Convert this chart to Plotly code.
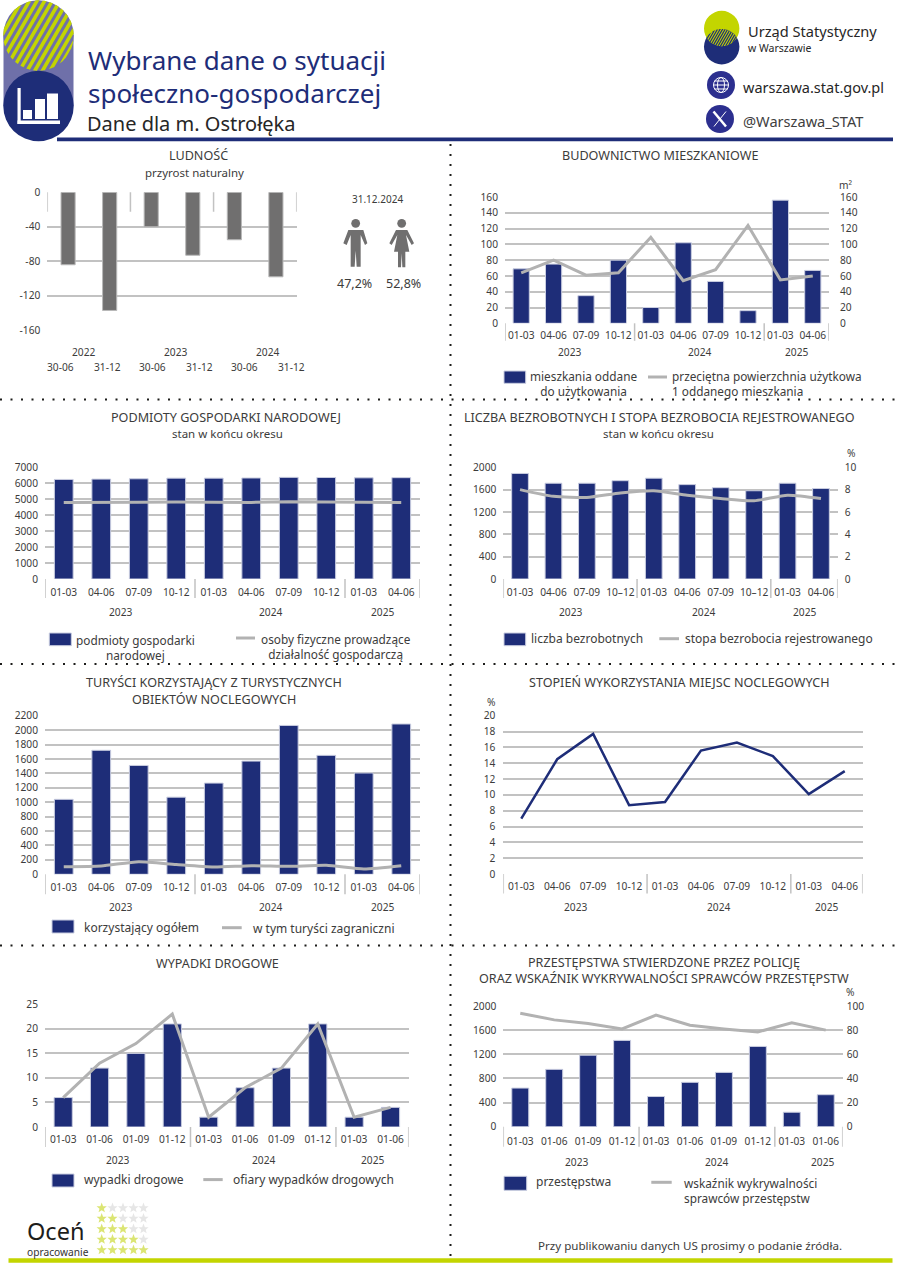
import math
import plotly.graph_objects as go

W, H = 900, 1273
FONT = "Noto Sans"
NAVY = "#1e2d78"
LIME = "#c3d500"
GRID = "#c2c2c2"
LINEC = "#b2b2b2"
TXT = "#3c3c3b"
BARGREY = "#706f6f"
TICK = 10.2

# ---------- data ----------
pop_labels_top = ["2022", "2023", "2024"]
pop_labels_dates = ["30-06", "31-12", "30-06", "31-12", "30-06", "31-12"]
pop_growth = [-84, -137, -40, -73, -55, -98]
pop_ticks = [0, -40, -80, -120, -160]
sex_date = "31.12.2024"
sex_male = "47,2%"
sex_female = "52,8%"

quarters = ["01-03", "04-06", "07-09", "10-12", "01-03", "04-06", "07-09", "10-12", "01-03", "04-06"]
quarters_dash = ["01-03", "04-06", "07-09", "10–12", "01-03", "04-06", "07-09", "10–12", "01-03", "04-06"]
cumul = ["01-03", "01-06", "01-09", "01-12", "01-03", "01-06", "01-09", "01-12", "01-03", "01-06"]
years = ["2023", "2024", "2025"]
year_sizes = [4, 4, 2]

dwellings = [69, 75, 35, 80, 20, 102, 53, 16, 156, 67]
dwelling_area = [64, 80, 61, 64, 109, 54, 68, 124, 55, 60]
entities = [6240, 6260, 6280, 6320, 6320, 6330, 6370, 6360, 6340, 6350]
self_employed = [4800, 4790, 4810, 4830, 4800, 4800, 4840, 4830, 4790, 4800]
unemployed = [1890, 1715, 1715, 1760, 1805, 1690, 1635, 1580, 1715, 1620]
unemp_rate = [8.0, 7.4, 7.3, 7.7, 7.9, 7.5, 7.2, 7.0, 7.5, 7.2]
tourists = [1040, 1720, 1510, 1070, 1265, 1570, 2065, 1650, 1405, 2085]
tourists_foreign = [105, 115, 175, 135, 100, 120, 110, 125, 75, 120]
occupancy = [7.0, 14.5, 17.7, 8.7, 9.1, 15.6, 16.6, 14.9, 10.1, 13.0]
accidents = [6, 12, 15, 21, 2, 8, 12, 21, 2, 4]
victims = [6, 13, 17, 23, 2, 8, 12, 21, 2, 4]
crimes = [640, 950, 1185, 1430, 500, 735, 900, 1330, 240, 530]
detection = [94, 88.5, 85.5, 81, 92.5, 84, 81, 78.5, 86, 80]

# ---------- helpers ----------
def X(px):
    return px / W

def Y(py):
    return 1 - py / H

shapes, annotations, layout_axes = [], [], {}
traces = []

def text(x, y, s, size=12, color=TXT, anchor="center", family=FONT):
    annotations.append(dict(x=X(x), y=Y(y), xref="paper", yref="paper", text=s, showarrow=False,
                            xanchor=anchor, yanchor="middle", align=anchor if anchor != "center" else "center",
                            borderpad=0, borderwidth=0,
                            font=dict(size=size, color=color, family=family)))

def rect(x0, y0, x1, y1, fill, line=None, lw=0):
    shapes.append(dict(type="rect", xref="paper", yref="paper", x0=X(x0), x1=X(x1), y0=Y(y0), y1=Y(y1),
                       fillcolor=fill, line=dict(color=line or fill, width=lw)))

def hline(x0, y0, x1, y1, color, width, dash=None):
    shapes.append(dict(type="line", xref="paper", yref="paper", x0=X(x0), x1=X(x1), y0=Y(y0), y1=Y(y1),
                       line=dict(color=color, width=width, dash=dash or "solid")))

def circle(cx, cy, r, fill, line=None, lw=0):
    shapes.append(dict(type="circle", xref="paper", yref="paper", x0=X(cx - r), x1=X(cx + r),
                       y0=Y(cy + r), y1=Y(cy - r), fillcolor=fill, line=dict(color=line or fill, width=lw)))

def poly(points, fill):
    d = "M" + " L".join(f"{X(a):.5f},{Y(b):.5f}" for a, b in points) + " Z"
    shapes.append(dict(type="path", xref="paper", yref="paper", path=d, fillcolor=fill,
                       line=dict(color=fill, width=0)))

def stripes(circles, period, width, angle, color):
    """Diagonal stripes clipped to the intersection of the circles."""
    ca, sa = math.cos(angle), math.sin(angle)
    mx = sum(c[0] for c in circles) / len(circles)
    my = sum(c[1] for c in circles) / len(circles)
    rot = [((c[0] - mx) * ca + (c[1] - my) * sa, -(c[0] - mx) * sa + (c[1] - my) * ca, c[2]) for c in circles]
    v0 = -60.0
    while v0 < 60:
        n = 7
        lows, highs = [], []
        for k in range(n):
            v = v0 + width * k / (n - 1)
            lo, hi = -1e9, 1e9
            ok = True
            for cu, cv, r in rot:
                q = r * r - (v - cv) ** 2
                if q <= 0:
                    ok = False
                    break
                s = math.sqrt(q)
                lo, hi = max(lo, cu - s), min(hi, cu + s)
            if ok and hi > lo:
                lows.append((lo, v))
                highs.append((hi, v))
        if len(lows) >= 2:
            pts = lows + highs[::-1]
            poly([(mx + u * ca - v * sa, my + u * sa + v * ca) for u, v in pts], color)
        v0 += period

def chart(i, box, ymax, dtick, labels, bars=None, line=None, y2=None, bar_color=NAVY, smooth=False,
          line_color=LINEC, line_w=3, sx=7, sy=7, sy2=None, ticks=None):
    l, r, top, bot = box
    xa, ya = f"x{i}", f"y{i}"
    n = len(labels)
    xs = list(range(n))
    tickvals = ticks if ticks is not None else list(range(0, ymax + 1, dtick))
    common = dict(showline=False, zeroline=False)
    layout_axes[f"xaxis{i}"] = dict(domain=[X(l), X(r)], range=[-0.5, n - 0.5], anchor=ya, showgrid=False,
                                    tickmode="array", tickvals=xs, ticktext=labels, ticks="",
                                    ticklabelstandoff=sx, tickfont=dict(size=TICK, color=TXT, family=FONT),
                                    fixedrange=True, **common)
    rng = [0, ymax] if ticks is None else [min(ticks), max(ticks)]
    layout_axes[f"yaxis{i}"] = dict(domain=[Y(bot), Y(top)], range=rng, anchor=xa, showgrid=True,
                                    gridcolor=GRID, gridwidth=1.5, tickmode="array", tickvals=tickvals,
                                    ticktext=[str(v) for v in tickvals], ticks="", ticklabelstandoff=sy,
                                    tickfont=dict(size=TICK, color=TXT, family=FONT), fixedrange=True, **common)
    if bars is not None:
        traces.append(go.Bar(x=xs, y=bars[0], name=bars[1], xaxis=xa, yaxis=ya, width=0.5,
                             marker=dict(color=bar_color, line=dict(color="#c9cde0", width=1)), showlegend=False))
    lya = ya
    if y2 is not None:
        lya = f"y{i + 20}"
        tv2 = list(range(0, y2[0] + 1, y2[1]))
        layout_axes[f"yaxis{i + 20}"] = dict(domain=[Y(bot), Y(top)], range=[0, y2[0]], anchor=xa,
                                             overlaying=ya, side="right", showgrid=False, tickmode="array",
                                             tickvals=tv2, ticktext=[str(v) for v in tv2], ticks="",
                                             ticklabelstandoff=sy2 if sy2 is not None else sy,
                                             tickfont=dict(size=TICK, color=TXT, family=FONT),
                                             fixedrange=True, **common)
    if line is not None:
        traces.append(go.Scatter(x=xs, y=line[0], name=line[1], xaxis=xa, yaxis=lya, mode="lines",
                                 line=dict(color=line_color, width=line_w, shape="spline" if smooth else "linear",
                                           smoothing=0.6),
                                 showlegend=False))

def dividers(i, sizes, div, names, ylab, shifts=None, anchor=0):
    xa = f"x{i}"
    yd = f"y{i} domain"
    pos = 0
    edges = [-0.5]
    for s in sizes:
        pos += s
        edges.append(pos - 0.5)
    for e in edges:
        shapes.append(dict(type="line", xref=xa, yref=yd, xsizemode="scaled", ysizemode="pixel", yanchor=anchor,
                           x0=e, x1=e, y0=0, y1=-div, line=dict(color=GRID, width=1.5)))
    if names:
        for k, nm in enumerate(names):
            annotations.append(dict(x=(edges[k] + edges[k + 1]) / 2, y=0, xref=xa, yref=yd, text=nm,
                                    showarrow=False, yshift=-ylab, xshift=(shifts or [0, 0, 0])[k],
                                    yanchor="middle", font=dict(size=TICK, color=TXT, family=FONT)))

def swatch(x0, y0, x1, y1):
    rect(x0, y0, x1, y1, NAVY, "#c9cde0", 1)

# ---------- page furniture ----------
rect(3.5, 35, 73.5, 106, "#6f70a9")
circle(38.5, 35.5, 35.2, "#6f70a9")
stripes([(38.5, 35.5, 35.2)], 6.6, 3.6, math.radians(-60), LIME)
circle(38.5, 106, 35.2, NAVY)
rect(57, 137.5, 893, 141.3, NAVY)
# icon in the lower circle
rect(17.5, 88, 20.7, 124, "white")
rect(17.5, 120.5, 60, 124, "white")
rect(23, 110, 32, 119, "white")
rect(35, 99, 45, 119, "white")
rect(47, 93.5, 58, 119, "white")

text(88, 60, "Wybrane dane o sytuacji", 26, NAVY, "left")
text(88, 93, "społeczno-gospodarczej", 26, NAVY, "left")
text(87, 123, "Dane dla m. Ostrołęka", 20, "#262626", "left")

circle(721.7, 46.7, 17.7, NAVY)
circle(721.7, 28.5, 17.7, LIME)
# lens where both circles overlap: navy ground with lime hatching
LENS = [(721.7, 46.7, 17.7), (721.7, 28.5, 17.7)]
lens_pts = []
for a in range(-60, 61, 6):
    t = math.radians(a)
    lens_pts.append((721.7 + 17.7 * math.sin(t), 28.5 + 17.7 * math.cos(t)))
for a in range(60, -61, -6):
    t = math.radians(a)
    lens_pts.append((721.7 + 17.7 * math.sin(t), 46.7 - 17.7 * math.cos(t)))
poly(lens_pts, NAVY)
stripes(LENS, 2.2, 1.0, math.radians(-60), LIME)
text(747.5, 31, "Urząd Statystyczny", 14.6, "#262626", "left")
text(748, 48, "w Warszawie", 10.5, "#262626", "left")

circle(721, 85, 14, "#2c2f8f")
circle(721, 85, 7.5, "#2c2f8f", "white", 1)
shapes.append(dict(type="circle", xref="paper", yref="paper", x0=X(717.5), x1=X(724.5), y0=Y(92.5), y1=Y(77.5),
                   line=dict(color="white", width=1)))
hline(713.5, 85, 728.5, 85, "white", 1)
hline(714.5, 81, 727.5, 81, "white", 1)
hline(714.5, 89, 727.5, 89, "white", 1)
text(742.5, 87, "warszawa.stat.gov.pl", 14.5, "#262626", "left")
circle(720, 119, 14, "#2c2f8f")
hline(713.5, 111.5, 726, 126.5, "white", 2.5)
hline(726, 111.5, 714, 126.5, "white", 1)
text(743, 121, "@Warszawa_STAT", 14.6, "#404040", "left")

# dotted separators
for yy in (399.5, 664, 945.5):
    hline(0, yy, 900, yy, "#1d1d1b", 2, "2px,8.5px")
hline(450.5, 144, 450.5, 1258, "#1d1d1b", 2, "2px,8px")

# bottom
rect(8.5, 1258.2, 892.5, 1262.8, LIME)
text(26.5, 1231, "Oceń", 23.5, "#1d1d1b", "left")
text(27, 1252, "opracowanie", 10.2, "#333333", "left")
text(690, 1245, "Przy publikowaniu danych US prosimy o podanie źródła.", 11.6, TXT)

cols = [101.7, 112.5, 123, 133.5, 143.5]
rows = [1208, 1218.5, 1229, 1239.5, 1250]
for ri, ry in enumerate(rows):
    for ci, cx in enumerate(cols):
        pts = []
        for k in range(10):
            rad = 5.4 if k % 2 == 0 else 2.3
            t = math.radians(-90 + 36 * k)
            pts.append((cx + rad * math.cos(t), ry + rad * math.sin(t)))
        poly(pts, "#dbe573" if ci <= ri else "#e6e6e6")

# persons
def zoomed(points):
    return [(320 + a / 3, 180 + b / 3) for a, b in points]

circle(320 + 107 / 3, 180 + 130 / 3, 4.4, BARGREY)
poly(zoomed([(85, 150), (130, 150), (142, 190), (135, 195), (122, 165), (122, 260), (110, 260), (107, 212),
             (104, 260), (92, 260), (92, 165), (80, 195), (70, 190)]), BARGREY)
circle(320 + 245 / 3, 180 + 130 / 3, 4.4, BARGREY)
poly(zoomed([(228, 150), (262, 150), (282, 190), (275, 195), (258, 165), (268, 215), (256, 215), (256, 262),
             (247, 262), (245, 220), (243, 262), (234, 262), (234, 215), (222, 215), (232, 165), (215, 195),
             (208, 190)]), BARGREY)
text(377.3, 199.3, sex_date, 10)
text(354, 284, sex_male, 12.5)
text(403.3, 284, sex_female, 12.5)

# ---------- chart 1: population ----------
text(198, 155.7, "LUDNOŚĆ", 12.6)
text(194, 172.3, "przyrost naturalny", 11.5)
chart(2, (47.3, 296.7, 192.3, 330.3), 0, 40, [""] * 6, bars=(pop_growth, "przyrost naturalny"),
      bar_color=BARGREY, ticks=pop_ticks, sy=6)
layout_axes["xaxis2"]["showticklabels"] = False
traces[-1].width = 0.34
traces[-1].marker.line.color = "#b8b8b8"
dividers(2, [2, 2, 2], 19.5, None, 0, anchor=1)
for xp, lab in zip((83, 175, 267), pop_labels_top):
    text(xp, 352, lab, TICK)
for xp, lab in zip((60, 107, 152, 199, 245, 291), pop_labels_dates):
    text(xp, 367, lab, TICK)

# ---------- chart 2: dwellings ----------
text(660, 155.7, "BUDOWNICTWO MIESZKANIOWE", 12.6)
chart(3, (505, 829, 197, 323.3), 160, 20, quarters, bars=(dwellings, "mieszkania oddane do użytkowania"),
      line=(dwelling_area, "przeciętna powierzchnia użytkowa 1 oddanego mieszkania"), y2=(160, 20), sy=6, sy2=10, sx=4)
dividers(3, year_sizes, 17.5, years, 28.5)
text(846, 185, "m²", TICK)
swatch(504, 371, 525.7, 383.3)
text(583, 383.5, "mieszkania oddane<br>do użytkowania", 11.8)
hline(648, 377, 667, 377, LINEC, 3)
text(671.7, 383, "przeciętna powierzchnia użytkowa<br>1 oddanego mieszkania", 11.8, TXT, "left")

# ---------- chart 3: entities ----------
text(226, 417.7, "PODMIOTY GOSPODARKI NARODOWEJ", 12.6)
text(227, 433.7, "stan w końcu okresu", 11.5)
chart(4, (45, 420, 467.3, 579), 7000, 1000, quarters, bars=(entities, "podmioty gospodarki narodowej"),
      line=(self_employed, "osoby fizyczne prowadzące działalność gospodarczą"), sy=6, sx=6)
dividers(4, year_sizes, 19, years, 32.7)
swatch(49.3, 633, 71.3, 645.7)
text(135, 647, "podmioty gospodarki<br>narodowej", 11.8)
hline(236, 638, 255, 638, LINEC, 3)
text(335.5, 646, "osoby fizyczne prowadzące<br>działalność gospodarczą", 11.8)

# ---------- chart 4: unemployment ----------
text(659, 417.7, "LICZBA BEZROBOTNYCH I STOPA BEZROBOCIA REJESTROWANEGO", 12.6)
text(658.7, 433.7, "stan w końcu okresu", 11.5)
chart(5, (503.3, 837.7, 467.3, 579), 2000, 400, quarters_dash, bars=(unemployed, "liczba bezrobotnych"),
      line=(unemp_rate, "stopa bezrobocia rejestrowanego"), y2=(10, 2), smooth=True, sy=6, sy2=6, sx=6)
dividers(5, year_sizes, 19, years, 32.7)
text(851, 453, "%", TICK)
swatch(504, 633, 525.7, 645.7)
text(531, 639, "liczba bezrobotnych", 12, TXT, "left")
hline(659.3, 638.7, 679, 638.7, LINEC, 3)
text(684.7, 638, "stopa bezrobocia rejestrowanego", 12, TXT, "left")

# ---------- chart 5: tourists ----------
text(214, 682.3, "TURYŚCI KORZYSTAJĄCY Z TURYSTYCZNYCH", 12.6)
text(214, 699.3, "OBIEKTÓW NOCLEGOWYCH", 12.6)
chart(6, (45, 420, 715.7, 874.3), 2200, 200, quarters, bars=(tourists, "korzystający ogółem"),
      line=(tourists_foreign, "w tym turyści zagraniczni"), smooth=True, sy=6, sx=5)
dividers(6, year_sizes, 20, years, 32.4)
swatch(52, 920, 74, 933)
text(84.3, 927.7, "korzystający ogółem", 12, TXT, "left")
hline(222, 927.7, 241.7, 927.7, LINEC, 3)
text(253.3, 928.5, "w tym turyści zagraniczni", 12, TXT, "left")

# ---------- chart 6: occupancy ----------
text(679, 682.7, "STOPIEŃ WYKORZYSTANIA MIEJSC NOCLEGOWYCH", 12.6)
chart(7, (503.3, 862.7, 715.7, 874), 20, 2, quarters, line=(occupancy, "stopień wykorzystania"),
      line_color=NAVY, line_w=2.5, sy=7, sx=5)
dividers(7, year_sizes, 19.5, years, 32.7)
text(491, 701.5, "%", TICK)

# ---------- chart 7: accidents ----------
text(217, 963, "WYPADKI DROGOWE", 12.6)
chart(8, (45, 408.7, 1004.3, 1127), 25, 5, cumul, bars=(accidents, "wypadki drogowe"),
      line=(victims, "ofiary wypadków drogowych"), sy=6, sx=5)
dividers(8, year_sizes, 20, years, 33)
swatch(52, 1174, 74, 1187)
text(84.3, 1179, "wypadki drogowe", 12, TXT, "left")
hline(203.3, 1179.6, 222.7, 1179.6, LINEC, 3)
text(233.3, 1179, "ofiary wypadków drogowych", 12, TXT, "left")

# ---------- chart 8: crime ----------
text(664, 962.3, "PRZESTĘPSTWA STWIERDZONE PRZEZ POLICJĘ", 12.6)
text(663.7, 978.3, "ORAZ WSKAŹNIK WYKRYWALNOŚCI SPRAWCÓW PRZESTĘPSTW", 12.6)
chart(9, (503.3, 842.7, 1006, 1126.7), 2000, 400, cumul, bars=(crimes, "przestępstwa"),
      line=(detection, "wskaźnik wykrywalności sprawców przestępstw"), y2=(100, 20), sy=6, sy2=3, sx=7)
dividers(9, year_sizes, 20, years, 35, shifts=[5, 10, 14])
text(850, 991.7, "%", TICK)
swatch(504, 1176.3, 526.7, 1190.3)
text(536, 1181.7, "przestępstwa", 12, TXT, "left")
hline(651.3, 1182.3, 671.7, 1182.3, LINEC, 3)
text(684, 1190.6, "wskaźnik wykrywalności<br>sprawców przestępstw", 11.8, TXT, "left")

fig = go.Figure(data=traces)
fig.update_layout(width=W, height=H, margin=dict(l=0, r=0, t=0, b=0, pad=0, autoexpand=False), autosize=False,
                  paper_bgcolor="white", plot_bgcolor="white", showlegend=False,
                  font=dict(family=FONT, color=TXT), shapes=shapes, annotations=annotations, **layout_axes)
fig.write_html("out.html", config=dict(displayModeBar=False, responsive=False),
               post_script="document.body.style.margin='0';document.body.style.overflow='hidden';")
